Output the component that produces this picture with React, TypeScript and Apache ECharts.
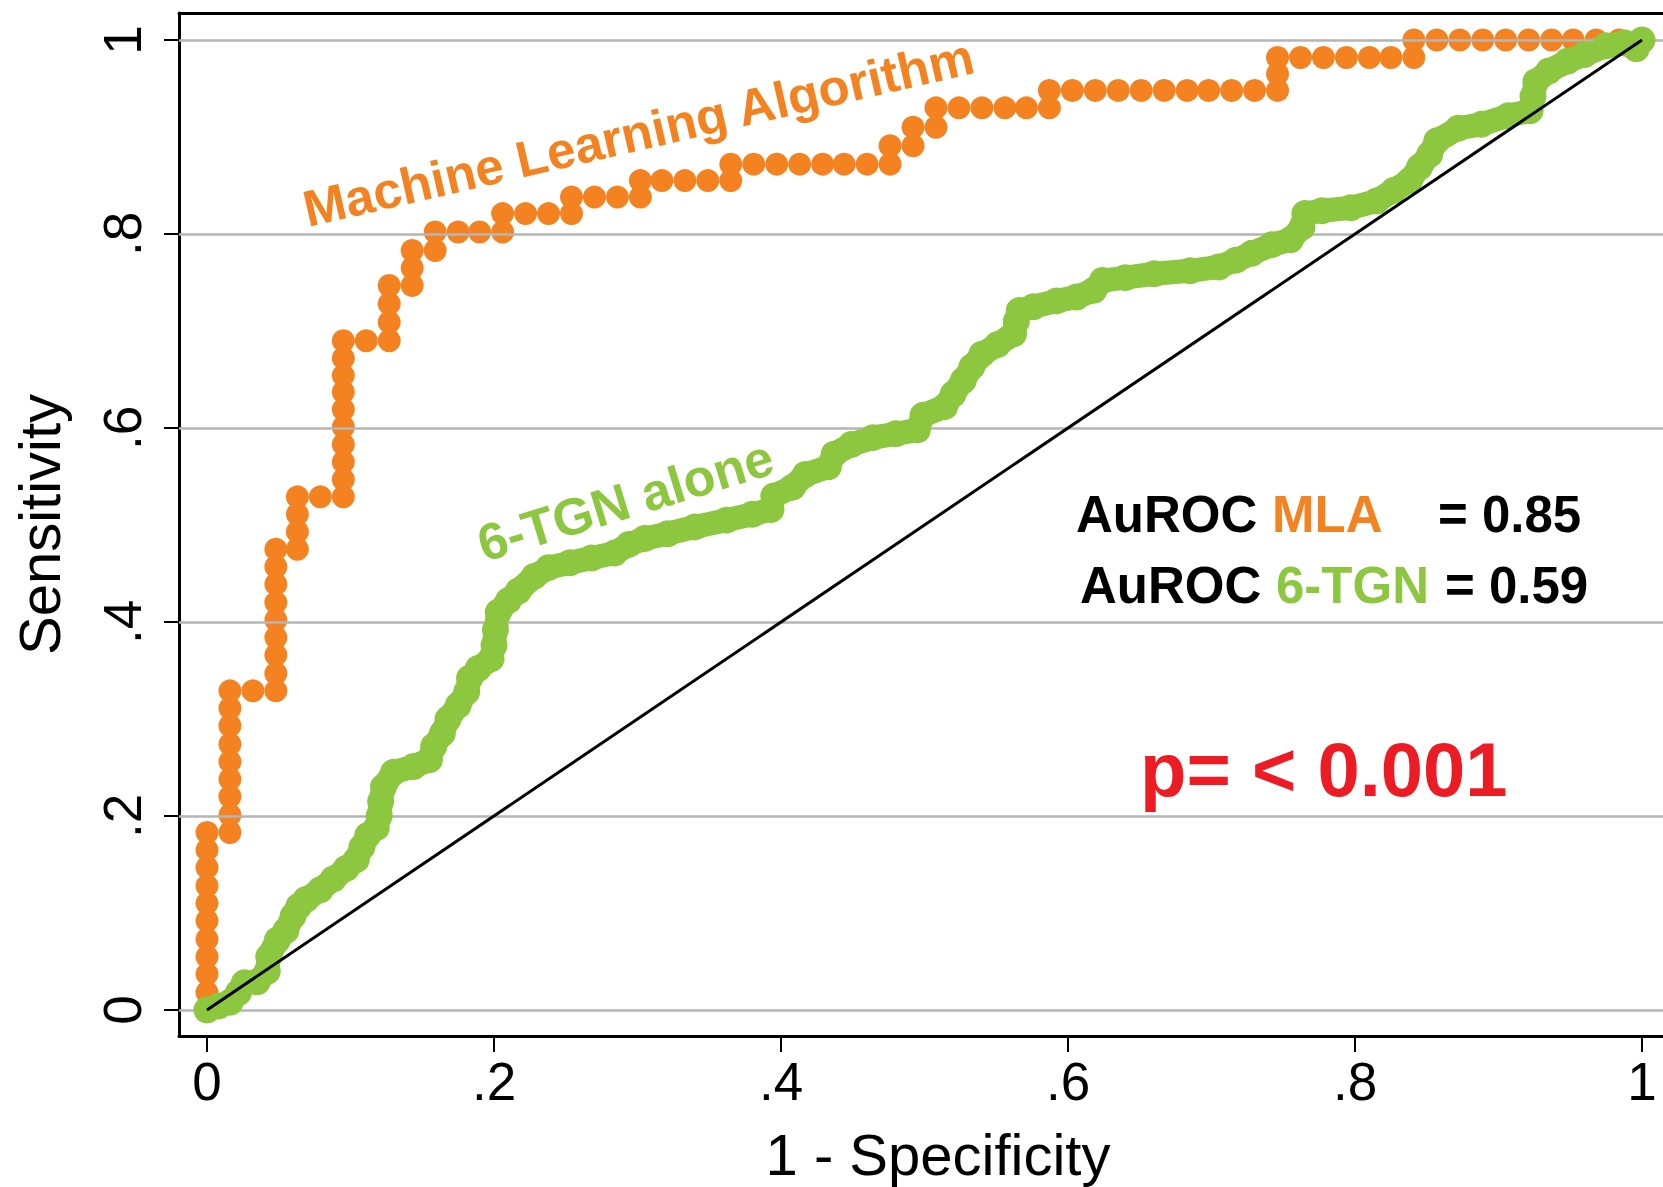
import React, { useEffect, useRef } from "react";
import * as echarts from "echarts";

// ---------- data ----------
const tickValues = [0, 0.2, 0.4, 0.6, 0.8, 1];
const tickLabels = ["0", ".2", ".4", ".6", ".8", "1"];

const xTitle = "1 - Specificity";
const yTitle = "Sensitivity";

// Machine Learning Algorithm ROC points [1 - specificity, sensitivity]
const mlaRoc: [number, number][] = [
  [0, 0], [0, 0.018], [0, 0.037], [0, 0.055], [0, 0.073], [0, 0.092], [0, 0.11], [0, 0.128], [0, 0.147], [0, 0.165], [0, 0.183],
  [0.016, 0.183], [0.016, 0.201], [0.016, 0.22], [0.016, 0.238], [0.016, 0.256], [0.016, 0.274], [0.016, 0.293], [0.016, 0.311], [0.016, 0.329],
  [0.032, 0.329],
  [0.048, 0.329], [0.048, 0.347], [0.048, 0.366], [0.048, 0.384], [0.048, 0.402], [0.048, 0.42], [0.048, 0.439], [0.048, 0.457], [0.048, 0.475],
  [0.063, 0.475], [0.063, 0.493], [0.063, 0.511], [0.063, 0.529],
  [0.079, 0.529],
  [0.095, 0.529], [0.095, 0.547], [0.095, 0.565], [0.095, 0.583], [0.095, 0.601], [0.095, 0.619], [0.095, 0.637], [0.095, 0.654], [0.095, 0.672], [0.095, 0.69],
  [0.111, 0.69],
  [0.127, 0.69], [0.127, 0.709], [0.127, 0.728], [0.127, 0.747],
  [0.143, 0.747], [0.143, 0.765], [0.143, 0.783],
  [0.159, 0.783], [0.159, 0.802],
  [0.175, 0.802], [0.19, 0.802],
  [0.206, 0.802], [0.206, 0.821],
  [0.222, 0.821], [0.238, 0.821],
  [0.254, 0.821], [0.254, 0.838],
  [0.27, 0.838], [0.286, 0.838],
  [0.302, 0.838], [0.302, 0.855],
  [0.317, 0.855], [0.333, 0.855], [0.349, 0.855],
  [0.365, 0.855], [0.365, 0.872],
  [0.381, 0.872], [0.397, 0.872], [0.413, 0.872], [0.429, 0.872], [0.444, 0.872], [0.46, 0.872],
  [0.476, 0.872], [0.476, 0.891],
  [0.492, 0.891], [0.492, 0.91],
  [0.508, 0.91], [0.508, 0.93],
  [0.524, 0.93], [0.54, 0.93], [0.556, 0.93], [0.571, 0.93],
  [0.587, 0.93], [0.587, 0.948],
  [0.603, 0.948], [0.619, 0.948], [0.635, 0.948], [0.651, 0.948], [0.667, 0.948], [0.683, 0.948], [0.698, 0.948], [0.714, 0.948], [0.73, 0.948],
  [0.746, 0.948], [0.746, 0.965], [0.746, 0.982],
  [0.762, 0.982], [0.778, 0.982], [0.794, 0.982], [0.81, 0.982], [0.825, 0.982],
  [0.841, 0.982], [0.841, 1],
  [0.857, 1], [0.873, 1], [0.889, 1], [0.905, 1], [0.921, 1], [0.937, 1], [0.952, 1], [0.968, 1], [0.984, 1], [1, 1],
];

// 6-TGN alone ROC points [1 - specificity, sensitivity]
const tgnRoc: [number, number][] = [
  [0, 0], [0.008, 0.004], [0.016, 0.008], [0.022, 0.018], [0.026, 0.028], [0.035, 0.029], [0.042, 0.04], [0.043, 0.055],
  [0.049, 0.072], [0.055, 0.082], [0.06, 0.097], [0.064, 0.107], [0.069, 0.114], [0.079, 0.124], [0.088, 0.135],
  [0.097, 0.146], [0.104, 0.155], [0.108, 0.168], [0.112, 0.18], [0.118, 0.188], [0.12, 0.2], [0.121, 0.215],
  [0.123, 0.23], [0.13, 0.245], [0.144, 0.251], [0.155, 0.258], [0.158, 0.272], [0.164, 0.285], [0.168, 0.3],
  [0.175, 0.314], [0.181, 0.328], [0.183, 0.342], [0.189, 0.352], [0.198, 0.362], [0.2, 0.376], [0.201, 0.392],
  [0.203, 0.41], [0.21, 0.422], [0.217, 0.432], [0.228, 0.447], [0.238, 0.456], [0.253, 0.461], [0.268, 0.466],
  [0.284, 0.471], [0.294, 0.48], [0.305, 0.486], [0.321, 0.491], [0.34, 0.498], [0.362, 0.505], [0.38, 0.511],
  [0.393, 0.516], [0.395, 0.53], [0.408, 0.539], [0.417, 0.552], [0.433, 0.56], [0.437, 0.573], [0.449, 0.583],
  [0.464, 0.59], [0.48, 0.594], [0.495, 0.598], [0.499, 0.613], [0.514, 0.622], [0.52, 0.635], [0.527, 0.649],
  [0.533, 0.663], [0.54, 0.676], [0.551, 0.686], [0.562, 0.697], [0.564, 0.71], [0.566, 0.721], [0.576, 0.725],
  [0.592, 0.731], [0.606, 0.735], [0.618, 0.742], [0.624, 0.752], [0.64, 0.755], [0.66, 0.759], [0.685, 0.762],
  [0.705, 0.766], [0.717, 0.773], [0.728, 0.78], [0.742, 0.789], [0.755, 0.794], [0.763, 0.807], [0.765, 0.821],
  [0.777, 0.824], [0.797, 0.827], [0.815, 0.834], [0.827, 0.845], [0.838, 0.855], [0.845, 0.869], [0.852, 0.882],
  [0.857, 0.896], [0.872, 0.909], [0.888, 0.913], [0.907, 0.922], [0.922, 0.927], [0.924, 0.942], [0.926, 0.957],
  [0.935, 0.968], [0.948, 0.978], [0.96, 0.985], [0.975, 0.994], [0.988, 0.997], [0.996, 0.991], [1, 1],
];

// chance line
const referenceLine: [number, number][] = [[0, 0], [1, 1]];

const labelMla = "Machine Learning Algorithm";
const labelTgn = "6-TGN alone";
const aurocRows = [
  { prefix: "AuROC", name: "MLA", value: "= 0.85" },
  { prefix: "AuROC", name: "6-TGN", value: "= 0.59" },
];
const pValueText = "p= < 0.001";

// ---------- styles ----------
const FONT = "'Liberation Sans', Arial, Helvetica, sans-serif";
const ORANGE = "#F58220";
const GREEN = "#8DC63F";
const RED = "#ED1C24";

const X_MIN = -0.0195;
const X_MAX = 1.0146;
const Y_MIN = -0.0268;
const Y_MAX = 1.0278;

const fmt = (v: number) => {
  const i = tickValues.findIndex((t) => Math.abs(t - v) < 1e-6);
  return i >= 0 ? tickLabels[i] : "";
};

export default function App() {
  const ref = useRef<HTMLDivElement>(null);

  useEffect(() => {
    if (!ref.current) return;
    const chart = echarts.init(ref.current, undefined, { renderer: "svg" });

    const deg = Math.PI / 180;
    const txt = (text: string, x: number, y: number, fill: string, fontSize: number, rotation = 0) => ({
      type: "text",
      x,
      y,
      rotation,
      z: 10,
      style: {
        text,
        fill,
        fontSize,
        fontWeight: "bold",
        fontFamily: FONT,
        align: "left",
        verticalAlign: "middle",
      },
    });

    const option: any = {
      animation: false,
      backgroundColor: "#ffffff",
      grid: {
        left: 179,
        top: 13,
        width: 1484,
        height: 1023,
        containLabel: false,
        outerBoundsMode: "none",
      },
      xAxis: [
        {
          type: "value",
          position: "bottom",
          min: X_MIN,
          max: X_MAX,
          axisLine: { show: true, onZero: false, lineStyle: { color: "#000", width: 3 } },
          axisTick: {
            show: true,
            inside: false,
            length: 16,
            customValues: tickValues,
            lineStyle: { color: "#000", width: 2 },
          },
          axisLabel: {
            show: true,
            customValues: tickValues,
            formatter: fmt,
            color: "#000",
            fontSize: 53,
            fontFamily: FONT,
            margin: 19,
          },
          splitLine: { show: false },
          name: xTitle,
          nameLocation: "middle",
          nameGap: 89,
          nameTextStyle: {
            color: "#000",
            fontSize: 58,
            fontFamily: FONT,
            padding: [0, 0, 0, 34],
          },
        },
        {
          type: "value",
          position: "top",
          min: X_MIN,
          max: X_MAX,
          axisLine: { show: true, onZero: false, lineStyle: { color: "#000", width: 3 } },
          axisTick: { show: false },
          axisLabel: { show: false },
          splitLine: { show: false },
        },
      ],
      yAxis: {
        type: "value",
        position: "left",
        min: Y_MIN,
        max: Y_MAX,
        axisLine: { show: true, onZero: false, lineStyle: { color: "#000", width: 3 } },
        axisTick: {
          show: true,
          inside: false,
          length: 15,
          customValues: tickValues,
          lineStyle: { color: "#000", width: 2 },
        },
        axisLabel: {
          show: true,
          customValues: tickValues,
          formatter: fmt,
          rotate: 90,
          color: "#000",
          fontSize: 53,
          fontFamily: FONT,
          margin: 30,
        },
        splitLine: { show: false },
        name: yTitle,
        nameLocation: "middle",
        nameGap: 111,
        nameTextStyle: {
          color: "#000",
          fontSize: 58,
          fontFamily: FONT,
        },
      },
      series: [
        {
          name: "grid",
          type: "line",
          data: [],
          z: 1,
          silent: true,
          markLine: {
            silent: true,
            symbol: ["none", "none"],
            label: { show: false },
            lineStyle: { color: "#b5b5b5", width: 2.5, type: "solid" },
            data: tickValues.map((v) => ({ yAxis: v })),
          },
        },
        {
          name: "MLA",
          type: "scatter",
          data: mlaRoc,
          symbol: "circle",
          symbolSize: 23,
          itemStyle: { color: ORANGE, opacity: 1 },
          z: 3,
          silent: true,
        },
        {
          name: "6-TGN band",
          type: "line",
          data: tgnRoc,
          showSymbol: false,
          lineStyle: { color: GREEN, width: 24, cap: "round", join: "round" },
          z: 4,
          silent: true,
        },
        {
          name: "6-TGN",
          type: "scatter",
          data: tgnRoc,
          symbol: "circle",
          symbolSize: 27,
          itemStyle: { color: GREEN, opacity: 1 },
          z: 5,
          silent: true,
        },
        {
          name: "reference",
          type: "line",
          data: referenceLine,
          showSymbol: false,
          lineStyle: { color: "#000", width: 3 },
          z: 7,
          silent: true,
        },
      ],
      graphic: [
        txt(labelMla, 304, 210, ORANGE, 51, 13 * deg),
        txt(labelTgn, 479, 545, GREEN, 52, 17 * deg),
        txt(aurocRows[0].prefix, 1076, 514, "#000", 51),
        txt(aurocRows[0].name, 1272, 514, ORANGE, 51),
        txt(aurocRows[0].value, 1438, 514, "#000", 51),
        txt(aurocRows[1].prefix, 1080, 585, "#000", 51),
        txt(aurocRows[1].name, 1276, 585, GREEN, 51),
        txt(aurocRows[1].value, 1445, 585, "#000", 51),
        txt(pValueText, 1140, 769, RED, 76),
      ],
    };

    chart.setOption(option);
    return () => {
      chart.dispose();
    };
  }, []);

  return (
    <div
      ref={ref}
      style={{
        position: "absolute",
        left: 0,
        top: 0,
        width: 1663,
        height: 1187,
        background: "#fff",
      }}
    />
  );
}
